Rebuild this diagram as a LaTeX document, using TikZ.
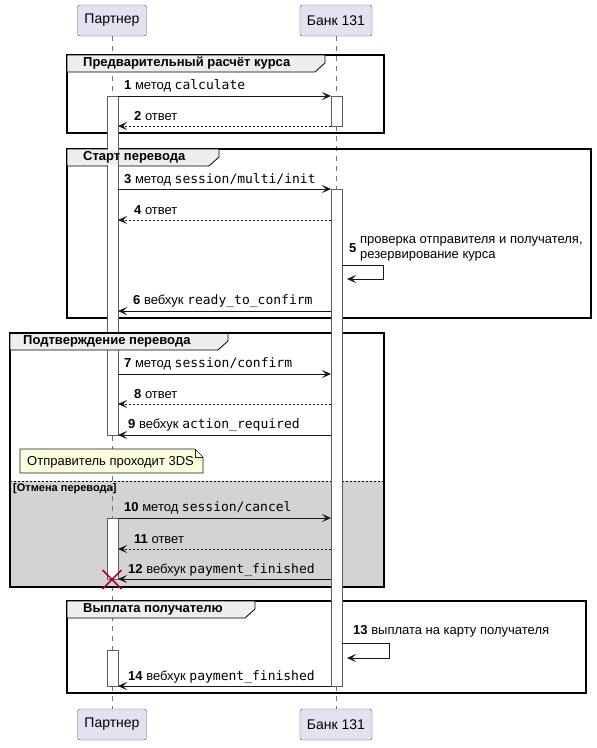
\documentclass[tikz,border=0pt]{standalone}
\usepackage{fontspec}
\setmainfont{Liberation Sans}
\setmonofont{DejaVu Sans Mono}
\usetikzlibrary{arrows.meta}
\definecolor{partfill}{HTML}{E2E2F0}
\definecolor{linecol}{HTML}{181818}
\definecolor{tabfill}{HTML}{EEEEEE}
\definecolor{notefill}{HTML}{FEFFDD}
\definecolor{elsefill}{HTML}{D3D3D3}
\definecolor{killcol}{HTML}{A80036}
\tikzset{
  part/.style={draw=linecol!70, fill=partfill, rounded corners=2.5pt, inner xsep=7pt,
    minimum height=31pt, font=\fontsize{14}{16}\selectfont},
  life/.style={draw=linecol!60, dash pattern=on 5pt off 5pt, line width=0.6pt},
  actbar/.style={draw=linecol!70, fill=white, line width=0.8pt},
  msg/.style={-{Stealth[length=9pt,width=8pt,inset=4pt]}, line width=0.8pt, draw=linecol},
  reply/.style={msg, dash pattern=on 2pt off 2pt},
  lbl/.style={anchor=west, inner sep=0pt, font=\fontsize{13}{15}\selectfont},
  grp/.style={draw=black, line width=1.5pt},
  tab/.style={draw=black, fill=tabfill, line width=0.8pt},
  tabtext/.style={anchor=west, inner sep=0pt, font=\bfseries\fontsize{13}{15}\selectfont}
}
\begin{document}
\begin{tikzpicture}[x=1pt,y=-1pt]
\useasboundingbox (0,0) rectangle (597,748);

% frames, bodies
\fill[white] (10,333) rectangle (384,587);
\fill[elsefill] (10,481) rectangle (384,587);

% participants and lifelines
\node[part] (p1) at (112,20.5) {Партнер};
\node[part] (b1) at (336,20.5) {Банк 131};
\node[part] (p2) at (112,724.5) {Партнер};
\node[part] (b2) at (336,724.5) {Банк 131};
\draw[life] (p1.south) -- (p2.north);
\draw[life] (b1.south) -- (b2.north);

% Предварительный расчёт курса
\draw[grp] (67,55) rectangle (384,133);
\draw[tab] (67,55) -- (325,55) -- (325,63) -- (315,72) -- (67,72) -- cycle;
\node[tabtext] at (83,63.5) {Предварительный расчёт курса};

% Старт перевода
\draw[grp] (67,149) rectangle (591,318);
\draw[tab] (67,149) -- (219,149) -- (219,157) -- (209,166) -- (67,166) -- cycle;

% Подтверждение перевода
\draw[grp] (10,333) rectangle (384,587);
\draw[dash pattern=on 2pt off 2pt, line width=0.8pt] (10,481) -- (384,481);
\node[anchor=west, inner sep=0pt, font=\bfseries\fontsize{11}{13}\selectfont] at (13,489) {[Отмена перевода]};

% Выплата получателю
\draw[grp] (67,601) rectangle (586,693);
\draw[tab] (67,601) -- (255,601) -- (255,609) -- (245,618) -- (67,618) -- cycle;
\node[tabtext] at (83,609.5) {Выплата получателю};

% activations
\draw[actbar] (107,96) rectangle (118,435);
\draw[actbar] (331,96) rectangle (342,126);
\draw[actbar] (331,189) rectangle (342,686);
\draw[actbar] (107,518) rectangle (118,579);
\draw[actbar] (107,650) rectangle (118,686);
\fill[tabfill] (107.4,149.8) rectangle (117.6,165.2);
\node[tabtext] at (83,157.5) {Старт перевода};

\draw[tab] (10,333) -- (228,333) -- (228,341) -- (218,350) -- (10,350) -- cycle;
\node[tabtext] at (23,341.5) {Подтверждение перевода};
\draw[grp] (10,333) -- (228,333);

% note
\draw[draw=linecol, fill=notefill, line width=0.6pt] (20,449) -- (195,449) -- (203,457) -- (203,473) -- (20,473) -- cycle;
\draw[draw=linecol, line width=0.6pt] (195,449) -- (195,457) -- (203,457);
\node[lbl] at (27,462) {Отправитель проходит 3DS};

% messages
\draw[msg] (118,96) -- (331,96);
\node[lbl] at (124,86) {\textbf{1} метод \texttt{calculate}};
\draw[reply] (331,126) -- (118,126);
\node[lbl] at (134,116) {\textbf{2} ответ};
\draw[msg] (118,189) -- (331,189);
\node[lbl] at (124,180) {\textbf{3} метод \texttt{session/multi/init}};
\draw[reply] (331,220) -- (118,220);
\node[lbl] at (134,210) {\textbf{4} ответ};
\draw[msg] (342,265) -- (383,265) -- (383,279) -- (347,279);
\node[lbl] at (349,248) {\textbf{5}};
\node[lbl, align=left] at (360,249) {проверка отправителя и получателя,\\резервирование курса};
\draw[msg] (331,311) -- (118,311);
\node[lbl] at (133,301) {\textbf{6} вебхук \texttt{ready\_to\_confirm}};
\draw[msg] (118,374) -- (331,374);
\node[lbl] at (124,364) {\textbf{7} метод \texttt{session/confirm}};
\draw[reply] (331,404) -- (118,404);
\node[lbl] at (134,394) {\textbf{8} ответ};
\draw[msg] (331,435) -- (118,435);
\node[lbl] at (128,425) {\textbf{9} вебхук \texttt{action\_required}};
\draw[msg] (118,518) -- (331,518);
\node[lbl] at (124,508) {\textbf{10} метод \texttt{session/cancel}};
\draw[reply] (331,549) -- (118,549);
\node[lbl] at (134,539) {\textbf{11} ответ};
\draw[msg] (331,579) -- (118,579);
\node[lbl] at (128,570) {\textbf{12} вебхук \texttt{payment\_finished}};
\draw[killcol, line width=1.5pt] (102.5,570) -- (121.5,589) (102.5,589) -- (121.5,570);
\draw[msg] (342,643) -- (389,643) -- (389,658) -- (347,658);
\node[lbl] at (353,631) {\textbf{13} выплата на карту получателя};
\draw[msg] (331,686) -- (118,686);
\node[lbl] at (128,677) {\textbf{14} вебхук \texttt{payment\_finished}};
\end{tikzpicture}
\end{document}
